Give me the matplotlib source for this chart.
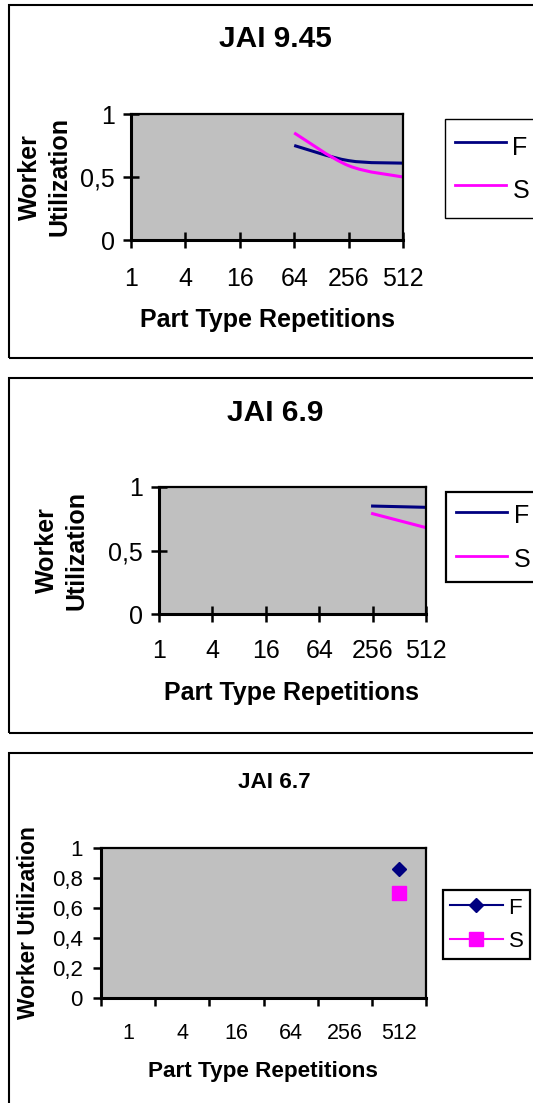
import numpy as np
import matplotlib.pyplot as plt
from matplotlib.path import Path
from matplotlib.patches import PathPatch, Rectangle
from matplotlib.lines import Line2D

plt.rcParams['font.family'] = ['Liberation Sans', 'DejaVu Sans']

W, H = 533, 1103

reps = ['1', '4', '16', '64', '256', '512']

# JAI 9.45 (positions are indexes into reps)
idx_945 = [3, 4, 5]
f_945 = [0.75, 0.63, 0.61]
s_945 = [0.85, 0.59, 0.50]

# JAI 6.9
idx_69 = [4, 5]
f_69 = [0.85, 0.84]
s_69 = [0.79, 0.68]

# JAI 6.7
idx_67 = [5]
f_67 = [0.86]
s_67 = [0.70]

NAVY = '#000080'
MAGENTA = '#FF00FF'
PLOT_BG = '#C0C0C0'


def px_box(x0, y0, x1, y1):
  # pixel box (top-left origin) -> figure fraction rect
  return [x0 / W, 1 - y1 / H, (x1 - x0) / W, (y1 - y0) / H]


def fx(x):
  return x / W


def fy(y):
  return 1 - y / H


def smooth_path(xs, ys):
  # Bezier curve through the points, like a spreadsheet "smoothed line"
  pts = np.column_stack([xs, ys]).astype(float)
  n = len(pts)
  verts = [pts[0]]
  codes = [Path.MOVETO]
  for i in range(n - 1):
    p_prev = pts[max(i - 1, 0)]
    p0 = pts[i]
    p1 = pts[i + 1]
    p_next = pts[min(i + 2, n - 1)]
    verts += [p0 + (p1 - p_prev) / 6, p1 - (p_next - p0) / 6, p1]
    codes += [Path.CURVE4] * 3
  return Path(verts, codes)


def style_axes(ax, fs):
  ax.set_facecolor(PLOT_BG)
  ax.set_ylim(0, 1)
  for side in ['left', 'bottom']:
    ax.spines[side].set_linewidth(2.2)
  for side in ['top', 'right']:
    ax.spines[side].set_linewidth(1.6)
  ax.tick_params(labelsize=fs, colors='black')


def panel_border(y0, y1):
  fig.add_artist(Rectangle((fx(8.5), fy(y1)), fx(560), (y1 - y0) / H,
                           transform=fig.transFigure, fill=False,
                           lw=1.5, ec='black'))


def add_legend(ax, handles, top_left, fs, hh, ls, hl, frame_lw, bp=0.4):
  leg = ax.legend(handles, ['F', 'S'], loc='upper left',
                  bbox_to_anchor=(fx(top_left[0]), fy(top_left[1])),
                  bbox_transform=fig.transFigure,
                  fontsize=fs, frameon=True, fancybox=False, framealpha=1,
                  edgecolor='black', borderaxespad=0, borderpad=bp,
                  handlelength=hl, handleheight=hh, handletextpad=0.25,
                  labelspacing=ls)
  leg.get_frame().set_linewidth(frame_lw)
  return leg


fig = plt.figure(figsize=(W / 100, H / 100), dpi=100)
fig.patch.set_facecolor('white')

line_handles = [Line2D([], [], color=NAVY, lw=2), Line2D([], [], color=MAGENTA, lw=2)]

# ---- JAI 9.45 ----
panel_border(5, 358)
ax1 = fig.add_axes(px_box(131, 114, 403, 240))
style_axes(ax1, 18)
ax1.set_xlim(0, 5)
ax1.set_xticks(range(len(reps)), reps)
ax1.set_yticks([0, 0.5, 1], ['0', '0,5', '1'])
ax1.tick_params(axis='both', direction='inout', length=11.5, width=1.8)
ax1.tick_params(axis='x', pad=13.5)
ax1.tick_params(axis='y', pad=6)
ax1.add_patch(PathPatch(smooth_path(idx_945, f_945), fill=False, ec=NAVY, lw=2.2))
ax1.add_patch(PathPatch(smooth_path(idx_945, s_945), fill=False, ec=MAGENTA, lw=2.2))
fig.text(fx(275), fy(39), 'JAI 9.45', ha='center', va='center',
         fontsize=21.5, fontweight='bold')
fig.text(fx(267), fy(320), 'Part Type Repetitions', ha='center', va='center',
         fontsize=18, fontweight='bold')
fig.text(fx(45), fy(177), 'Worker\nUtilization', ha='center', va='center',
         rotation=90, fontsize=18, fontweight='bold', linespacing=1.28)
add_legend(ax1, line_handles, (445, 119), 18, 1.85, 0.27, 2.05, 1.0)

# ---- JAI 6.9 ----
panel_border(378, 733)
ax2 = fig.add_axes(px_box(159, 487, 426, 614))
style_axes(ax2, 18)
ax2.set_xlim(0, 5)
ax2.set_xticks(range(len(reps)), reps)
ax2.set_yticks([0, 0.5, 1], ['0', '0,5', '1'])
ax2.tick_params(axis='both', direction='inout', length=11.5, width=1.8)
ax2.tick_params(axis='x', pad=12.5)
ax2.tick_params(axis='y', pad=6)
ax2.plot(idx_69, f_69, color=NAVY, lw=2.2)
ax2.plot(idx_69, s_69, color=MAGENTA, lw=2.2)
fig.text(fx(275), fy(413), 'JAI 6.9', ha='center', va='center',
         fontsize=21.5, fontweight='bold')
fig.text(fx(292), fy(693), 'Part Type Repetitions', ha='center', va='center',
         fontsize=18, fontweight='bold')
fig.text(fx(62), fy(550), 'Worker\nUtilization', ha='center', va='center',
         rotation=90, fontsize=18, fontweight='bold', linespacing=1.28)
add_legend(ax2, line_handles, (446, 491.5), 18, 1.28, 0.68, 2.05, 1.6)

# ---- JAI 6.7 ----
panel_border(753, 1130)
ax3 = fig.add_axes(px_box(101, 848, 426, 998))
style_axes(ax3, 16)
ax3.set_xlim(-0.5, len(reps) - 0.5)
ax3.set_xticks(np.arange(-0.5, len(reps)), [''] * (len(reps) + 1))
ax3.set_xticks(range(len(reps)), reps, minor=True)
ax3.set_yticks(np.linspace(0, 1, 6), ['0', '0,2', '0,4', '0,6', '0,8', '1'])
ax3.tick_params(axis='both', which='major', direction='out', length=6, width=1.8)
ax3.tick_params(axis='x', which='minor', length=0, pad=18, labelsize=15.5)
ax3.tick_params(axis='y', pad=7)
ax3.plot(idx_67, f_67, color=NAVY, lw=2, marker='D', ms=7, ls='none')
ax3.plot(idx_67, s_67, color=MAGENTA, lw=2, marker='s', ms=10, ls='none')
fig.text(fx(274), fy(782), 'JAI 6.7', ha='center', va='center',
         fontsize=16.2, fontweight='bold')
fig.text(fx(263), fy(1071), 'Part Type Repetitions', ha='center', va='center',
         fontsize=16.2, fontweight='bold')
fig.text(fx(29), fy(923), 'Worker Utilization', ha='center', va='center',
         rotation=90, fontsize=16.4, fontweight='bold')
marker_handles = [Line2D([], [], color=NAVY, lw=1.5, marker='D', ms=7),
                  Line2D([], [], color=MAGENTA, lw=1.5, marker='s', ms=10)]
add_legend(ax3, marker_handles, (443, 890), 16, 0.9, 0.54, 2.4, 1.6, bp=0.3)

fig.savefig('out.png', dpi=100)
